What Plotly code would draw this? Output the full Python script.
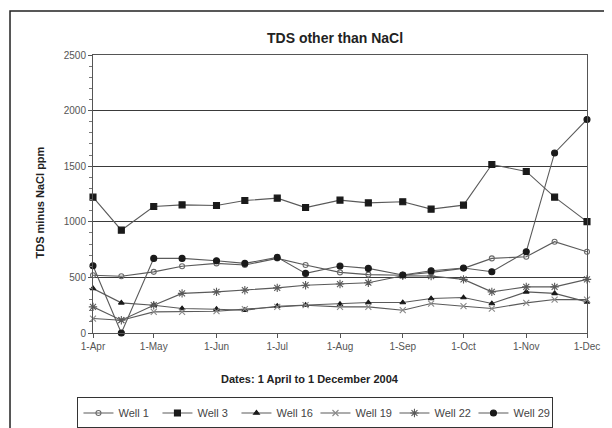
import plotly.graph_objects as go

# sampling dates (1st and 15th of each month)
dates = ["2004-04-01", "2004-04-15", "2004-05-01", "2004-05-15", "2004-06-01",
         "2004-06-15", "2004-07-01", "2004-07-15", "2004-08-01", "2004-08-15",
         "2004-09-01", "2004-09-15", "2004-10-01", "2004-10-15", "2004-11-01",
         "2004-11-15", "2004-12-01"]

# TDS minus NaCl (ppm)
well_1 = [520, 510, 550, 600, 626, 611, 671, 611, 545, 525, 520, 545, 581, 671, 686, 821, 731]
well_3 = [1222, 925, 1137, 1152, 1146, 1191, 1213, 1128, 1195, 1170, 1180, 1114, 1150, 1515, 1453, 1222, 1002]
well_16 = [400, 271, 250, 220, 214, 205, 241, 250, 259, 274, 274, 310, 319, 265, 370, 356, 280]
well_19 = [130, 115, 190, 190, 196, 215, 235, 250, 235, 235, 205, 265, 241, 220, 271, 301, 300]
well_22 = [235, 115, 250, 356, 370, 385, 406, 430, 440, 452, 515, 512, 482, 370, 415, 415, 482]
well_29 = [605, 0, 671, 671, 650, 626, 680, 536, 602, 581, 521, 560, 584, 551, 731, 1619, 1920]

month_ticks = ["2004-04-01", "2004-05-01", "2004-06-01", "2004-07-01", "2004-08-01",
               "2004-09-01", "2004-10-01", "2004-11-01", "2004-12-01"]
month_labels = ["1-Apr", "1-May", "1-Jun", "1-Jul", "1-Aug", "1-Sep", "1-Oct", "1-Nov", "1-Dec"]

FONT = "Liberation Sans, Arial, sans-serif"

series = [
    ("Well 1", well_1, "circle-open", "#6a6a6a", 5),
    ("Well 3", well_3, "square", "#1a1a1a", 6),
    ("Well 16", well_16, "triangle-up", "#1a1a1a", 5),
    ("Well 19", well_19, "x-thin-open", "#8a8a8a", 6),
    ("Well 22", well_22, "asterisk-open", "#5a5a5a", 7),
    ("Well 29", well_29, "circle", "#1a1a1a", 6),
]

fig = go.Figure()
for name, vals, sym, col, size in series:
    fig.add_trace(go.Scatter(
        x=dates, y=vals, name=name, mode="lines+markers",
        line=dict(color="#5a5a5a", width=1.1),
        marker=dict(symbol=sym, size=size, color=col,
                    line=dict(color=col, width=1.1)),
        cliponaxis=False,
    ))

# page body adds an 8px offset, so the figure is sized to fit inside the window
fig.update_layout(
    width=604, height=420,
    margin=dict(l=85, r=25, t=47, b=95, autoexpand=False),
    paper_bgcolor="white", plot_bgcolor="white",
    font=dict(family=FONT, size=10, color="#333333"),
    showlegend=True,
    legend=dict(orientation="h", xref="container", x=0.115, xanchor="left",
                y=-0.232, yanchor="top",
                bordercolor="#333333", borderwidth=1, bgcolor="white",
                font=dict(size=11, color="#444444"), itemwidth=30,
                entrywidth=34, tracegroupgap=0),
    annotations=[
        dict(text="<b>TDS other than NaCl</b>", x=0.49, y=1.061, xref="paper", yref="paper",
             showarrow=False, xanchor="center", yanchor="middle",
             font=dict(size=14, color="#222222")),
        dict(text="<b>Dates: 1 April to 1 December 2004</b>", x=0.44, y=-0.165,
             xref="paper", yref="paper", showarrow=False, xanchor="center", yanchor="middle",
             font=dict(size=11, color="#222222")),
        dict(text="<b>TDS minus NaCl ppm</b>", x=-0.107, y=0.47, xref="paper", yref="paper",
             showarrow=False, textangle=-90, xanchor="center", yanchor="middle",
             font=dict(size=11, color="#222222")),
    ],
    shapes=[
        # outer chart frame (cropped at right/bottom)
        dict(type="rect", xref="paper", yref="paper", x0=-0.168, x1=1.2, y0=-0.5, y1=1.158,
             line=dict(color="#222222", width=1.5)),
    ],
)

fig.update_xaxes(
    type="date", range=["2004-04-01", "2004-12-01"],
    tickvals=month_ticks, ticktext=month_labels,
    ticks="outside", ticklen=4, tickcolor="#555555",
    showline=True, linecolor="#555555", linewidth=1, mirror=True,
    showgrid=False, zeroline=False,
    tickfont=dict(size=10, color="#555555"),
)
fig.update_yaxes(
    range=[0, 2500], dtick=500, tick0=0,
    ticks="outside", ticklen=4, tickcolor="#555555",
    minor=dict(dtick=100, ticks="outside", ticklen=3, tickcolor="#777777", showgrid=False),
    showline=True, linecolor="#555555", linewidth=1, mirror=True,
    showgrid=True, gridcolor="#3a3a3a", gridwidth=1, zeroline=False,
    tickfont=dict(size=10, color="#555555"),
)

fig.write_html("out.html")
